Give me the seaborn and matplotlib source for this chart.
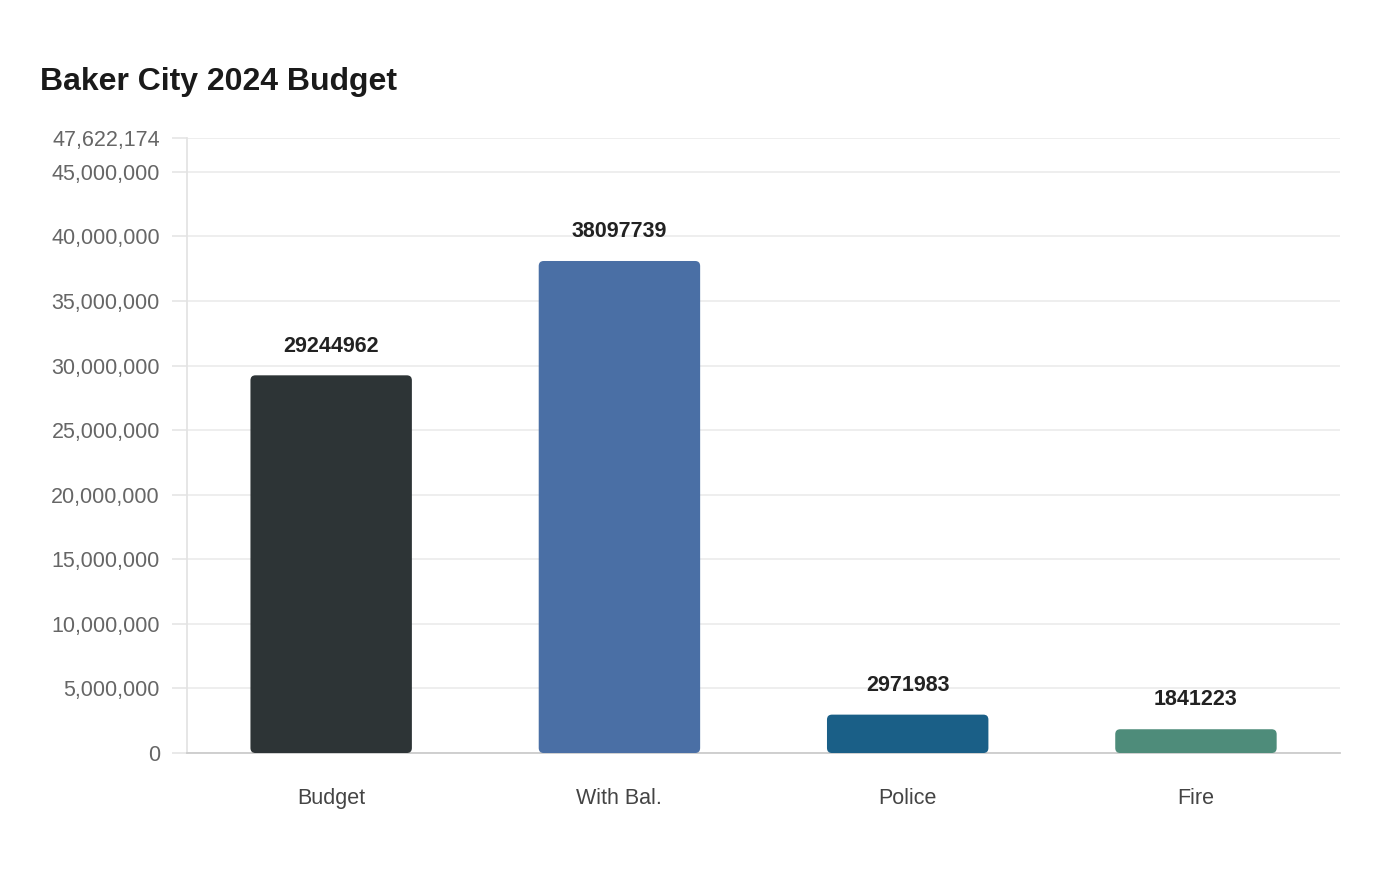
import matplotlib
matplotlib.use('Agg')
import matplotlib.pyplot as plt
import seaborn as sns
import pandas as pd
from matplotlib.patches import FancyBboxPatch
from matplotlib.ticker import FuncFormatter

# Datos del gráfico
categorias = ['Budget', 'With Bal.', 'Police', 'Fire']
valores = [29244962, 38097739, 2971983, 1841223]
colores = ['#2d3436', '#4a6fa5', '#1a5f87', '#4e8c7a']
titulo = 'Baker City 2024 Budget'

df = pd.DataFrame({'categoria': categorias, 'valor': valores})
y_max = max(valores) * 1.25

sns.set_theme(style='white')
plt.rcParams['font.family'] = ['Liberation Sans', 'DejaVu Sans']

fig = plt.figure(figsize=(14, 8.8), dpi=100)
ax = fig.add_axes([0.1336, 0.1443, 0.8236, 0.6989])

sns.barplot(data=df, x='categoria', y='valor', hue='categoria', palette=colores,
            width=0.56, legend=False, ax=ax, saturation=1)

ax.set_xlim(-0.5, len(categorias) - 0.5)
ax.set_ylim(0, y_max)

# Esquinas redondeadas
fig.canvas.draw()
px_x = (ax.get_xlim()[1] - ax.get_xlim()[0]) / ax.bbox.width
px_y = (ax.get_ylim()[1] - ax.get_ylim()[0]) / ax.bbox.height
for p in list(ax.patches):
    x0, y0, w, h = p.get_x(), p.get_y(), p.get_width(), p.get_height()
    fc = p.get_facecolor()
    p.remove()
    caja = FancyBboxPatch((x0, y0), w, h,
                          boxstyle=f'round,pad=0,rounding_size={5 * px_x}',
                          mutation_aspect=px_y / px_x,
                          facecolor=fc, edgecolor='none', zorder=3)
    ax.add_patch(caja)

# Etiquetas de valor
for i, v in enumerate(valores):
    ax.annotate(str(v), (i, v), xytext=(0, 13.5), textcoords='offset points',
                ha='center', va='bottom', fontsize=15.5, fontweight='bold', color='#222222')

ticks = list(range(0, 45000001, 5000000)) + [y_max]
ax.set_yticks(ticks)
ax.yaxis.set_major_formatter(FuncFormatter(lambda v, _: f'{v:,.0f}'))
ax.tick_params(axis='y', labelsize=15.5, labelcolor='#666666', length=11, color='#e6e6e6', pad=8.5, left=True)
ax.tick_params(axis='x', labelsize=15.5, labelcolor='#444444', length=0, pad=25)

ax.grid(axis='y', color='#ebebeb', linewidth=1.2, zorder=0)
ax.set_axisbelow(True)
for s in ['top', 'right']:
    ax.spines[s].set_visible(False)
ax.spines['left'].set_color('#e3e3e3')
ax.spines['bottom'].set_color('#cccccc')
ax.spines['bottom'].set_linewidth(1.3)
ax.set_xlabel('')
ax.set_ylabel('')

fig.text(40 / 1400, 1 - 82 / 880, titulo, fontsize=23, fontweight='bold', color='#1a1a1a',
         ha='left', va='center')

fig.savefig('out.png', dpi=100, facecolor='white')
